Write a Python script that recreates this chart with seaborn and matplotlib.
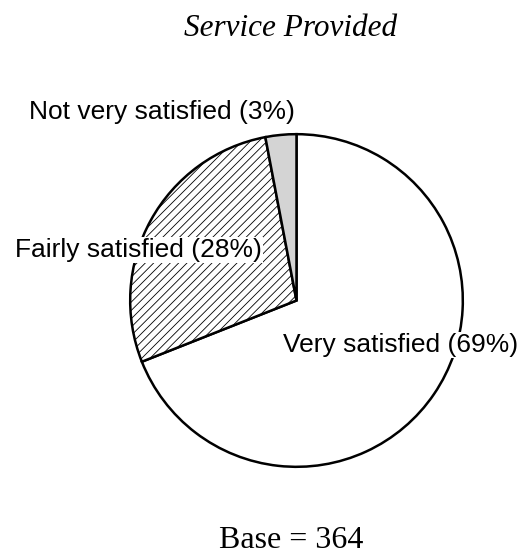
import matplotlib
matplotlib.use("Agg")
import matplotlib.pyplot as plt
import seaborn as sns

# Satisfaction with the service provided (percent of respondents)
categories = ["Very satisfied", "Fairly satisfied", "Not very satisfied"]
shares = [69, 28, 3]
title_text = "Service Provided"
base_text = "Base = 364"

sns.set_theme(style="white")
plt.rcParams["font.family"] = ["Liberation Sans", "DejaVu Sans"]
plt.rcParams["text.color"] = "black"
plt.rcParams["hatch.linewidth"] = 0.6

fills = ["white", "white", "#d4d4d4"]
hatches = ["", "////", ""]

W, H = 525, 559
fig = plt.figure(figsize=(W / 100, H / 100), dpi=100)
fig.patch.set_facecolor("white")

cx, cy, r = 296.5, 300.5, 168
ax = fig.add_axes([(cx - r) / W, (H - cy - r) / H, 2 * r / W, 2 * r / H])

wedges, _ = ax.pie(
    shares,
    colors=fills,
    startangle=90,
    counterclock=False,
    radius=0.99,
    wedgeprops=dict(edgecolor="black", linewidth=1.8),
)
for w, h in zip(wedges, hatches):
    w.set_hatch(h)
ax.set_xlim(-1, 1)
ax.set_ylim(-1, 1)
ax.set_aspect("equal")
ax.axis("off")

labels = [f"{c} ({v}%)" for c, v in zip(categories, shares)]
fs = 19
box = dict(facecolor="white", edgecolor="none", pad=1.0)
fig.text(518 / W, 1 - 345 / H, labels[0], fontsize=fs, ha="right", va="center",
         bbox=box)
fig.text(15 / W, 1 - 250 / H, labels[1], fontsize=fs, ha="left", va="center",
         bbox=box)
fig.text(29 / W, 1 - 112 / H, labels[2], fontsize=fs, ha="left", va="center")

fig.text(291 / W, 1 - 28 / H, title_text, fontsize=22.5, ha="center", va="center",
         family=["Liberation Serif", "DejaVu Serif"], style="italic")
fig.text(291 / W, 1 - 540 / H, base_text, fontsize=23, ha="center", va="center",
         family=["Liberation Serif", "DejaVu Serif"])

fig.savefig("out.png", dpi=100, facecolor="white")
